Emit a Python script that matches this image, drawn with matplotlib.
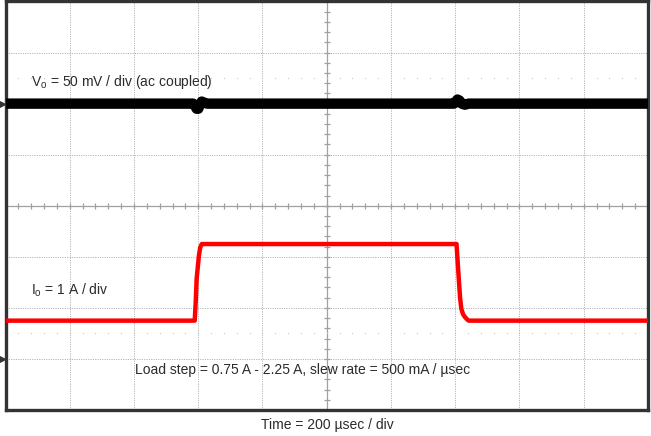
import numpy as np
import matplotlib
matplotlib.use("Agg")
import matplotlib.pyplot as plt

plt.rcParams["font.family"] = ["Liberation Sans", "DejaVu Sans"]
plt.rcParams["mathtext.fontset"] = "custom"
plt.rcParams["mathtext.rm"] = "Liberation Sans"

# scope settings
VO_SCALE = 50.0   # mV / div
IO_SCALE = 1.0    # A / div
T_SCALE = 200.0   # usec / div
VO_REF = 2.0      # div (ground marker of channel 1)
IO_REF = -3.0     # div (ground marker of channel 2)

# output voltage trace (ac coupled), time in usec, deviation in mV
vo_time = [0, 584, 590, 595, 600, 605, 611, 618, 628, 1396, 1402, 1407, 1413, 1420, 1430, 1442, 2000]
vo_mv = [0, 0, -2, -5, -5, -1, 2, 1, 0, 0, 2, 4, 3, 0, -1, 0, 0]

# load current trace, time in usec, current in A
io_time = [0, 589, 592, 595, 602, 606, 611, 1404, 1407, 1411, 1415, 1419, 1424, 1429, 1436, 1442, 2000]
io_amp = [0.75, 0.75, 1.1, 1.57, 2.02, 2.18, 2.25, 2.25, 1.95, 1.57, 1.2, 0.98, 0.88, 0.83, 0.78, 0.75, 0.75]

fig = plt.figure(figsize=(6.51, 4.36), dpi=100)
ax = fig.add_axes([5.5 / 651, 26 / 436, 642.5 / 651, 408.5 / 436])

t_end = 10 * T_SCALE
ax.set_xlim(0, t_end)
ax.set_ylim(-4, 4)

# graticule
grid_kw = dict(color="#b4b4b4", lw=0.7, ls=(0, (1.2, 1.2)), zorder=1)
for k in range(1, 10):
    ax.axvline(k * T_SCALE, **grid_kw)
for k in range(-3, 4):
    ax.axhline(k, **grid_kw)
ax.axvline(5 * T_SCALE, color="#a0a0a0", lw=0.9, zorder=1)
ax.axhline(0, color="#a0a0a0", lw=0.9, zorder=1)
minor_x = np.arange(0, 50.5) * T_SCALE / 5
minor_y = np.arange(-20, 20.5) / 5
ax.plot(minor_x, np.zeros_like(minor_x), ls="none", marker="|", ms=5, mew=0.9, color="#a0a0a0", zorder=1)
ax.plot(np.full_like(minor_y, 5 * T_SCALE), minor_y, ls="none", marker="_", ms=5, mew=0.9, color="#a0a0a0", zorder=1)
for row in (2.5, -2.5):
    ax.plot(minor_x, np.full_like(minor_x, row), ls="none", marker="o", ms=0.9, mew=0, color="#c8c8c8", zorder=1)

# traces
vo_div = VO_REF + np.array(vo_mv) / VO_SCALE
io_div = IO_REF + np.array(io_amp) / IO_SCALE
ax.plot(vo_time, vo_div, color="black", lw=7.5, solid_joinstyle="round", solid_capstyle="butt", zorder=3)
ax.plot(io_time, io_div, color="#ff0000", lw=3.2, solid_joinstyle="round", zorder=3)

# channel ground markers
for ref in (VO_REF, IO_REF):
    ax.plot([-12], [ref], marker=">", ms=4, color="#333333", clip_on=False, zorder=4)

txt = dict(fontsize=10, color="#2b2b2b", va="center")
ax.text(79, 2.42, r"V$_\mathregular{o}$ = 50 mV / div (ac coupled)", **txt)
ax.text(79, -1.65, r"I$_\mathregular{o}$ = 1 A / div", **txt)
ax.text(403, -3.21, "Load step = 0.75 A - 2.25 A, slew rate = 500 mA / \u00b5sec", **txt)
fig.text(327 / 651, 1 - 425 / 436, "Time = 200 \u00b5sec / div", fontsize=10, color="#2b2b2b", ha="center", va="center")

ax.set_xticks([])
ax.set_yticks([])
for s in ax.spines.values():
    s.set_color("#333333")
    s.set_linewidth(2.4)

fig.savefig("out.png", dpi=100)
